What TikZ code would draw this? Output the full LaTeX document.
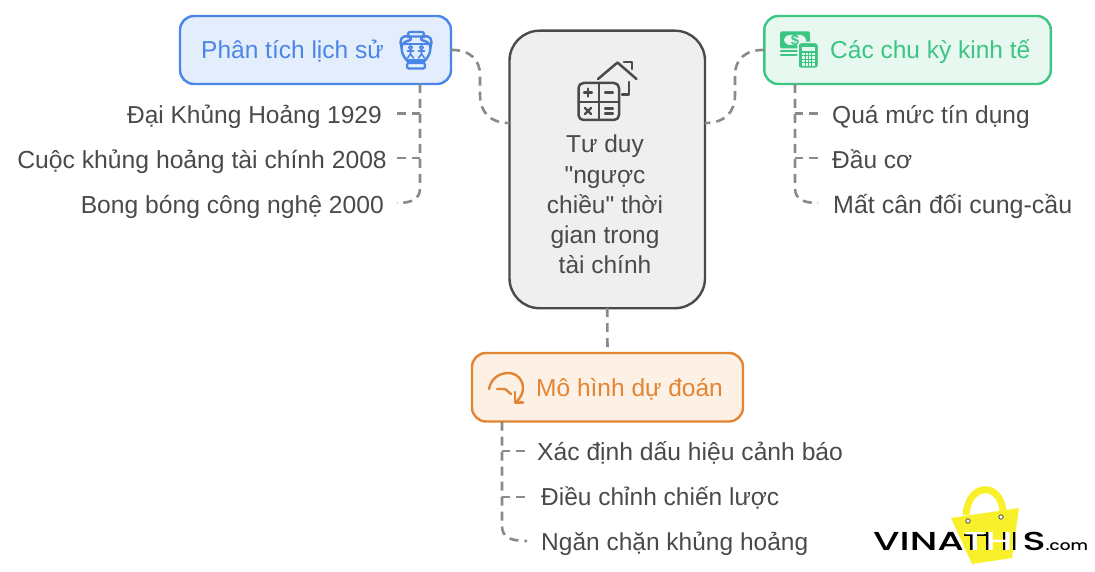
\documentclass[tikz,border=0pt]{standalone}
\usepackage{fontspec}
\setmainfont{Liberation Sans}[Ligatures=TeXOff]
\newfontfamily\logofont{Poppins Medium}
\definecolor{txt}{HTML}{4A4A4A}
\definecolor{dashc}{HTML}{8A8A8A}
\definecolor{blueS}{HTML}{4A86E8}
\definecolor{blueF}{HTML}{E3EDFC}
\definecolor{greenS}{HTML}{3CC583}
\definecolor{greenF}{HTML}{E7F8F0}
\definecolor{orS}{HTML}{E38533}
\definecolor{orF}{HTML}{FDF0E4}
\definecolor{grS}{HTML}{4A4A4A}
\definecolor{grF}{HTML}{EFEFEF}
\definecolor{bag}{HTML}{F8F02A}
\newcommand{\fsz}[1]{\fontsize{#1}{28}\selectfont}
\newlength\logolw
\newcommand{\shT}{\settowidth\logolw{T}\rlap{\rule[14.4pt]{\logolw}{1.4pt}}\rlap{\kern\dimexpr.5\logolw-3.1pt\relax\rule{1.8pt}{15pt}}\textcolor{white}{T}}
\newcommand{\shH}{\settowidth\logolw{H}\rlap{\kern.3pt\rule{1.8pt}{18.2pt}}\rlap{\kern\dimexpr\logolw-6.4pt\relax\rule{1.8pt}{18.2pt}}\textcolor{white}{H}}
\newcommand{\shI}{\rlap{\kern.3pt\rule{1.8pt}{18.2pt}}\textcolor{white}{I}}
\tikzset{
 x=1pt,y=-1pt,
 box/.style={draw,line width=2.4pt,rounded corners=14pt,anchor=north west,inner sep=0pt,outer sep=0pt},
 leaf/.style={text=txt,inner sep=0pt,font=\fsz{24.5}},
 head/.style={inner sep=0pt,font=\fsz{24.5}},
 link/.style={draw=dashc,line width=2.6pt,dash pattern=on 9pt off 6pt},
 ic/.style={line width=2.4pt,line cap=round,line join=round},
}
\begin{document}
\begin{tikzpicture}
\useasboundingbox (0,0) rectangle (1095,572);
\node[box,draw=grS,fill=grF,rounded corners=30pt,minimum width=195.5pt,minimum height=277.5pt] (center) at (509.5,30.7) {};
\node[box,draw=blueS,fill=blueF,minimum width=271pt,minimum height=68pt] (blue) at (180,16) {};
\node[box,draw=greenS,fill=greenF,minimum width=286.5pt,minimum height=68pt] (green) at (764.3,16) {};
\node[box,draw=orS,fill=orF,minimum width=271pt,minimum height=68.5pt] (orange) at (472,353) {};
% headings
\node[head,text=blueS,anchor=base west] (blueT) at (201,59) {Phân tích lịch sử};
\node[head,text=greenS,anchor=base west] (greenT) at (830,59) {Các chu kỳ kinh tế};
\node[head,text=orS,anchor=base west] (orangeT) at (536,396) {Mô hình dự đoán};
% centre text
\node[text=txt,inner sep=0pt,align=center,font=\fontsize{24.5}{30.2}\selectfont,anchor=north] (centerT) at (605,135) {Tư duy\\"ngược\\chiều" thời\\gian trong\\tài chính};
% leaves
\node[leaf,anchor=base east] (l1) at (382,123.5) {Đại Khủng Hoảng 1929};
\node[leaf,anchor=base east,font=\fsz{24.7}] (l2) at (387,168.5) {Cuộc khủng hoảng tài chính 2008};
\node[leaf,anchor=base east,font=\fsz{24.66}] (l3) at (384,213.5) {Bong bóng công nghệ 2000};
\node[leaf,anchor=base west] (r1) at (832,123.5) {Quá mức tín dụng};
\node[leaf,anchor=base west] (r2) at (832,168.5) {Đầu cơ};
\node[leaf,anchor=base west,font=\fsz{25}] (r3) at (833,213.5) {Mất cân đối cung-cầu};
\node[leaf,anchor=base west,font=\fsz{24.66}] (b1) at (537,460) {Xác định dấu hiệu cảnh báo};
\node[leaf,anchor=base west] (b2) at (541,505) {Điều chỉnh chiến lược};
\node[leaf,anchor=base west] (b3) at (541,550) {Ngăn chặn khủng hoảng};
% main links
\coordinate (cl) at (509.5,123);
\coordinate (cr) at (705,123);
\draw[link] (blue.east) .. controls (470,49.5) and (480,60) .. (480,75) -- (480,95) .. controls (480,112) and (490,123) .. (cl);
\draw[link] (green.west) .. controls (745,49.5) and (735,60) .. (735,75) -- (735,95) .. controls (735,112) and (725,123) .. (cr);
\draw[link] (center.south) -- (orange.north);
% trunks
\coordinate (tl) at (420,84);
\coordinate (tr) at (795,84);
\coordinate (tb) at (502,421.5);
\coordinate (tle) at (397,113.5);\coordinate (tlf) at (397,158);\coordinate (tlg) at (397,203);
\coordinate (tre) at (818,113.5);\coordinate (trf) at (818,158);\coordinate (trg) at (818,203);
\coordinate (tbe) at (525,451);\coordinate (tbf) at (525,497);\coordinate (tbg) at (527,541);
\draw[link] (tl) -- (420,188) .. controls (420,199) and (412,203) .. (tlg);
\draw[link] (tle) -- (420,113.5);
\draw[link] (tlf) -- (420,158);
\draw[link] (tr) -- (795,188) .. controls (795,199) and (803,203) .. (trg);
\draw[link] (tre) -- (795,113.5);
\draw[link] (trf) -- (795,158);
\draw[link] (tb) -- (502,526) .. controls (502,537) and (510,541) .. (tbg);
\draw[link] (tbe) -- (502,451);
\draw[link] (tbf) -- (502,497);
% icon: vase
\begin{scope}[shift={(416,50)},ic,draw=blueS,line width=2.4pt]
\draw[rounded corners=1.5pt] (-8,-18) rectangle (8,-13.5);
\draw (-5.5,-13.5) -- (-5.5,-10) (5.5,-13.5) -- (5.5,-10);
\draw (-5.5,-10) .. controls (-10,-9) and (-14.5,-7) .. (-14.5,-2) .. controls (-14.5,4) and (-11,9) .. (-7,12.5) -- (7,12.5) .. controls (11,9) and (14.5,4) .. (14.5,-2) .. controls (14.5,-7) and (10,-9) .. (5.5,-10);
\draw (-7,-13) .. controls (-15,-16) and (-17,-9) .. (-14.5,-3);
\draw (7,-13) .. controls (15,-16) and (17,-9) .. (14.5,-3);
\draw (-13,-6) -- (13,-6);
\draw (-9,10.5) -- (9,10.5);
\draw[rounded corners=1.5pt] (-9,13) rectangle (9,18.5);
\foreach \a in {-5.5,5.5}{
\draw[line width=1.6pt] (\a,-2.5) circle (1.7);
\draw[line width=1.6pt] (\a,-0.5) -- (\a,4) (\a-3,1) -- (\a+3,1) (\a,4) -- (\a-3,8) (\a,4) -- (\a+3,8);}
\end{scope}
% icon: money + calculator
\begin{scope}[ic,draw=greenS,line width=2.2pt]
\fill[greenS,rounded corners=1.5pt] (780,31.5) rectangle (810,48.5);
\fill[greenF,rounded corners=6pt] (784,35) rectangle (806,45);
\draw (781,51) -- (803,51) (781,55) -- (797,55);
\node[text=greenS,inner sep=0pt,font=\bfseries\fontsize{15}{15}\selectfont] (dollar) at (795,40) {\$};
\draw[draw=greenF,fill=greenS,line width=1.5pt,rounded corners=3pt] (798,42.5) rectangle (818.5,68.5);
\fill[greenF] (802,47) rectangle (815,51);
\foreach \i in {0,1,2,3}\foreach \j in {0,1,2,3}{\fill[greenF] (802.2+\i*3.4,53+\j*3.4) rectangle +(2.4,2.4);}
\end{scope}
% icon: predictive arrow
\begin{scope}[ic,draw=orS,line width=2.4pt]
\draw (489,389) .. controls (491,378) and (500,373) .. (508,373) .. controls (518,373) and (523,381) .. (523,388) .. controls (523,394) and (520,398) .. (517,401);
\draw (515,392) -- (515,402.5) -- (523,402.5);
\draw (497,389) -- (505,389) -- (511,394);
\end{scope}
% icon: calculator + house
\begin{scope}[ic,draw=grS,line width=2.5pt]
\draw[rounded corners=5pt] (578.5,83) rectangle (619,120);
\draw (599,83) -- (599,120) (578.5,102) -- (619,102);
\draw[line width=2.2pt] (584,92.5) -- (592,92.5) (588,88.5) -- (588,96.5);
\draw[line width=2.2pt] (605,92.5) -- (613,92.5);
\draw[line width=2.2pt] (585,108) -- (591,114) (591,108) -- (585,114);
\draw[line width=2.2pt] (605,108.5) -- (613,108.5) (605,113.5) -- (613,113.5);
\draw (598,79) -- (617.5,62.5) -- (636.5,79);
\draw (624,62) -- (632,62) -- (632,69);
\draw (629,82) -- (629,94.5) -- (622,94.5);
\end{scope}
% logo
\draw[bag,line width=7pt] (966,515) .. controls (968,483) and (1000,481) .. (1003,511);
\fill[bag] (951,518) -- (1019,508) -- (1012,558) -- (972,564) -- cycle;
\fill[white,draw=black!70,line width=.8pt] (968,521) circle (2.2) (1001,517) circle (2.2);
\node[inner sep=0pt,anchor=base west,font=\logofont\fontsize{26}{26}\selectfont,text=black] (logo) at (873,550) {\scalebox{1.47}[1]{VINA\shT\shH\shI S}\scalebox{1.2}[1]{\fontsize{14}{14}\selectfont .com}};
\end{tikzpicture}
\end{document}
